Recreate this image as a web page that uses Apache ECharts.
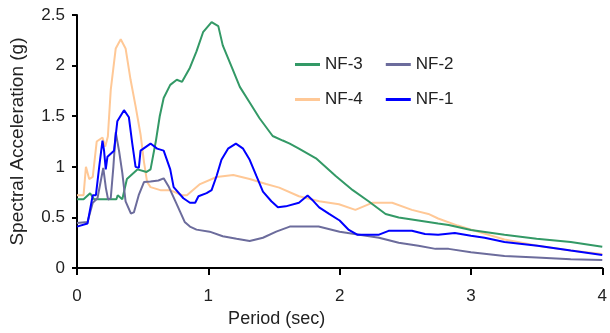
<!DOCTYPE html>
<html>
<head>
<meta charset="utf-8">
<script src="https://cdn.jsdelivr.net/npm/echarts@6/dist/echarts.min.js"></script>
<style>
  html, body { margin: 0; padding: 0; background: #fff; }
  #chart { width: 610px; height: 333px; }
</style>
</head>
<body>
<div id="chart"></div>
<script>
// period (sec) / spectral acceleration (g)
var nf3T = [0, 0.05, 0.1, 0.13, 0.2, 0.3, 0.31, 0.345, 0.38, 0.46, 0.53, 0.56, 0.6, 0.63, 0.66, 0.71, 0.76, 0.8, 0.86, 0.91, 0.96, 1.025, 1.076, 1.11, 1.18, 1.24, 1.315, 1.39, 1.49, 1.567, 1.62, 1.69, 1.82, 1.97, 2.1, 2.22, 2.35, 2.45, 2.6, 2.75, 2.83, 3.0, 3.255, 3.5, 3.76, 4.0];
var nf3Sa = [0.68, 0.68, 0.74, 0.68, 0.68, 0.68, 0.72, 0.68, 0.88, 0.975, 0.95, 0.975, 1.25, 1.5, 1.68, 1.81, 1.86, 1.84, 1.98, 2.14, 2.33, 2.43, 2.39, 2.2, 1.98, 1.79, 1.635, 1.48, 1.305, 1.26, 1.23, 1.18, 1.085, 0.91, 0.77, 0.66, 0.535, 0.5, 0.47, 0.44, 0.425, 0.377, 0.33, 0.29, 0.258, 0.21];

var nf2T = [0, 0.08, 0.12, 0.156, 0.2, 0.22, 0.237, 0.257, 0.277, 0.295, 0.32, 0.345, 0.37, 0.41, 0.433, 0.47, 0.51, 0.56, 0.62, 0.66, 0.7, 0.76, 0.82, 0.86, 0.91, 1.01, 1.11, 1.215, 1.315, 1.416, 1.517, 1.62, 1.84, 2.0, 2.15, 2.3, 2.45, 2.6, 2.73, 2.83, 3.0, 3.255, 3.5, 3.76, 4.0];
var nf2Sa = [0.446, 0.456, 0.645, 0.69, 0.99, 0.79, 0.676, 0.69, 1.0, 1.34, 1.16, 0.94, 0.66, 0.54, 0.55, 0.72, 0.85, 0.855, 0.865, 0.887, 0.8, 0.63, 0.456, 0.41, 0.38, 0.36, 0.315, 0.29, 0.267, 0.3, 0.36, 0.41, 0.41, 0.36, 0.33, 0.3, 0.25, 0.22, 0.19, 0.19, 0.157, 0.12, 0.104, 0.088, 0.079];

var nf4T = [0, 0.05, 0.068, 0.093, 0.12, 0.15, 0.194, 0.215, 0.235, 0.257, 0.295, 0.333, 0.37, 0.408, 0.446, 0.484, 0.51, 0.534, 0.56, 0.635, 0.71, 0.8, 0.837, 0.937, 1.063, 1.19, 1.315, 1.44, 1.54, 1.69, 1.844, 1.995, 2.12, 2.247, 2.4, 2.55, 2.676, 2.75, 2.9, 3.05, 3.255, 3.507, 3.76, 4.0];
var nf4Sa = [0.72, 0.72, 1.0, 0.88, 0.9, 1.25, 1.29, 1.2, 1.3, 1.76, 2.17, 2.26, 2.17, 1.86, 1.6, 1.32, 1.05, 0.85, 0.8, 0.77, 0.77, 0.72, 0.72, 0.83, 0.9, 0.92, 0.88, 0.83, 0.795, 0.71, 0.66, 0.63, 0.575, 0.645, 0.645, 0.575, 0.535, 0.49, 0.42, 0.36, 0.283, 0.22, 0.173, 0.14];

var nf1T = [0, 0.08, 0.12, 0.144, 0.169, 0.194, 0.206, 0.219, 0.232, 0.257, 0.282, 0.307, 0.358, 0.395, 0.421, 0.446, 0.471, 0.484, 0.56, 0.61, 0.66, 0.71, 0.736, 0.81, 0.86, 0.9, 0.925, 0.987, 1.025, 1.063, 1.1, 1.15, 1.21, 1.265, 1.315, 1.366, 1.416, 1.48, 1.53, 1.59, 1.69, 1.756, 1.79, 1.844, 1.92, 2.0, 2.07, 2.134, 2.3, 2.373, 2.55, 2.65, 2.75, 2.877, 3.0, 3.104, 3.255, 3.507, 3.76, 4.0];
var nf1Sa = [0.41, 0.44, 0.72, 0.72, 1.0, 1.26, 1.16, 0.975, 1.1, 1.13, 1.16, 1.45, 1.56, 1.49, 1.23, 1.0, 0.99, 1.16, 1.23, 1.18, 1.16, 0.975, 0.8, 0.69, 0.645, 0.645, 0.71, 0.74, 0.77, 0.91, 1.07, 1.18, 1.23, 1.18, 1.07, 0.91, 0.755, 0.66, 0.6, 0.61, 0.645, 0.717, 0.676, 0.6, 0.535, 0.47, 0.377, 0.33, 0.33, 0.368, 0.368, 0.336, 0.33, 0.346, 0.32, 0.3, 0.258, 0.22, 0.173, 0.13];

function pairs(t, v) {
  return t.map(function (x, i) { return [x, v[i]]; });
}

var textColor = "#222";
var font = "Liberation Sans, Arial, sans-serif";

var option = {
  animation: false,
  textStyle: { fontFamily: font },
  grid: { left: 76, right: 5, top: 15, bottom: 53 },
  legend: [
    {
      data: ["NF-3", "NF-2"],
      left: 290,
      top: 51,
      icon: "rect",
      itemWidth: 25,
      itemHeight: 3,
      itemGap: 23,
      textStyle: { fontSize: 17, color: textColor }
    },
    {
      data: ["NF-4", "NF-1"],
      left: 290,
      top: 86,
      icon: "rect",
      itemWidth: 25,
      itemHeight: 3,
      itemGap: 23,
      textStyle: { fontSize: 17, color: textColor }
    }
  ],
  xAxis: {
    type: "value",
    min: 0,
    max: 4,
    interval: 1,
    name: "Period (sec)",
    nameLocation: "middle",
    nameGap: 30,
    nameTextStyle: { fontSize: 18, color: textColor, padding: [0, 126, 0, 0] },
    axisLine: { show: true, lineStyle: { color: "#000", width: 2 } },
    axisTick: { show: true, length: 7, lineStyle: { color: "#000", width: 2 } },
    axisLabel: { fontSize: 17, color: textColor, margin: 20 },
    splitLine: { show: false }
  },
  yAxis: {
    type: "value",
    min: 0,
    max: 2.5,
    interval: 0.5,
    name: "Spectral Acceleration (g)",
    nameLocation: "middle",
    nameGap: 50,
    nameTextStyle: { fontSize: 19, color: textColor },
    axisLine: { show: true, lineStyle: { color: "#000", width: 2 } },
    axisTick: { show: true, length: 5, lineStyle: { color: "#000", width: 2 } },
    axisLabel: { fontSize: 17, color: textColor, margin: 12 },
    splitLine: { show: false }
  },
  series: [
    { name: "NF-4", type: "line", symbol: "none", color: "#ffc896", lineStyle: { width: 2 }, data: pairs(nf4T, nf4Sa) },
    { name: "NF-3", type: "line", symbol: "none", color: "#339966", lineStyle: { width: 2 }, data: pairs(nf3T, nf3Sa) },
    { name: "NF-2", type: "line", symbol: "none", color: "#6c6c9c", lineStyle: { width: 2 }, data: pairs(nf2T, nf2Sa) },
    { name: "NF-1", type: "line", symbol: "none", color: "#0000ff", lineStyle: { width: 2 }, data: pairs(nf1T, nf1Sa) }
  ]
};

echarts.init(document.getElementById("chart")).setOption(option);
</script>
</body>
</html>
